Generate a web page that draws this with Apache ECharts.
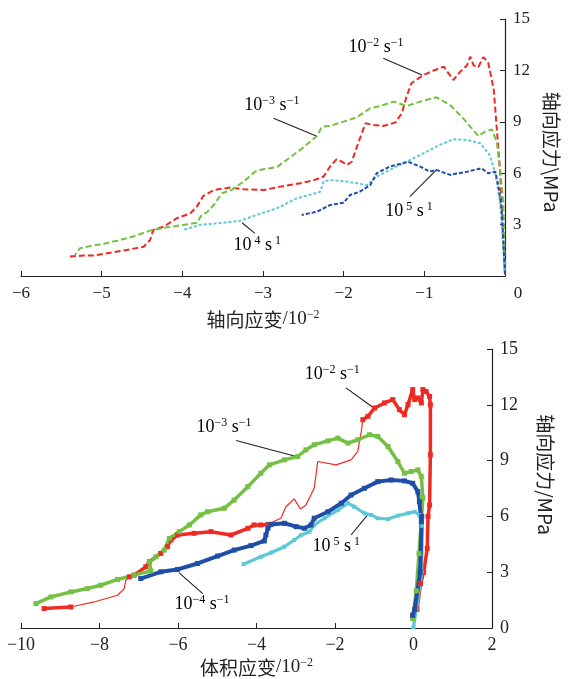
<!DOCTYPE html>
<html><head><meta charset="utf-8">
<script src="https://cdn.jsdelivr.net/npm/echarts@6/dist/echarts.min.js"></script>
<style>html,body{margin:0;padding:0;background:#fff}#c{width:572px;height:679px}</style>
</head><body><div id="c"></div>
<script>
// ---- top panel: axial stress vs axial strain (x in 10^-2, y in MPa)
const topXTicks = [-6, -5, -4, -3, -2, -1, 0];
const topYTicks = [3, 6, 9, 12, 15];
const topRed = [[0,0.1],[-0.03,3],[-0.06,6.0],[-0.10,8.5],[-0.14,10.9],[-0.21,12.5],[-0.27,12.77],[-0.33,12.2],[-0.39,12.3],[-0.43,12.8],[-0.47,12.3],[-0.56,11.9],[-0.64,11.44],[-0.76,12.22],[-0.89,11.98],[-1.01,11.73],[-1.16,11.25],[-1.22,10.47],[-1.28,9.5],[-1.36,8.95],[-1.51,8.76],[-1.63,8.81],[-1.73,8.91],[-1.82,7.75],[-1.90,6.67],[-1.96,6.48],[-2.02,6.67],[-2.09,6.81],[-2.17,6.38],[-2.25,5.80],[-2.38,5.57],[-2.54,5.41],[-2.77,5.23],[-2.99,5.02],[-3.24,5.06],[-3.41,5.16],[-3.61,5.02],[-3.74,4.67],[-3.82,4.05],[-3.90,3.66],[-4.07,3.37],[-4.23,2.88],[-4.36,2.69],[-4.40,2.10],[-4.48,1.71],[-4.69,1.52],[-4.89,1.36],[-5.10,1.19],[-5.23,1.19],[-5.43,1.13]];
const topGreen = [[0,0.1],[-0.02,4.24],[-0.06,6.19],[-0.10,7.75],[-0.16,8.56],[-0.25,8.42],[-0.33,8.17],[-0.52,9.21],[-0.68,9.98],[-0.85,10.43],[-1.05,10.18],[-1.22,9.92],[-1.38,10.18],[-1.55,9.92],[-1.67,9.79],[-1.84,9.26],[-2.0,9.01],[-2.17,8.76],[-2.27,8.72],[-2.33,8.17],[-2.54,7.36],[-2.70,6.80],[-2.83,6.35],[-3.0,6.23],[-3.10,6.09],[-3.24,5.51],[-3.39,5.02],[-3.51,4.83],[-3.61,4.14],[-3.70,3.70],[-3.76,3.56],[-3.82,3.11],[-3.99,2.98],[-4.19,2.84],[-4.40,2.65],[-4.61,2.30],[-4.81,2.06],[-4.98,1.87],[-5.14,1.75],[-5.27,1.62],[-5.33,1.23]];
const topCyan = [[0,0.1],[-0.06,4.24],[-0.12,6.0],[-0.19,7.06],[-0.31,7.75],[-0.47,7.94],[-0.64,7.98],[-0.81,7.65],[-1.01,7.16],[-1.22,6.67],[-1.43,6.19],[-1.59,5.80],[-1.71,5.31],[-1.96,5.51],[-2.17,5.60],[-2.25,5.51],[-2.27,5.21],[-2.29,4.92],[-2.38,4.79],[-2.58,4.54],[-2.72,4.20],[-2.83,3.95],[-3.08,3.56],[-3.28,3.23],[-3.49,3.11],[-3.78,2.98],[-3.99,2.69]];
const topBlue = [[0,0.1],[-0.04,3.85],[-0.08,5.21],[-0.12,6.09],[-0.21,6.0],[-0.29,6.29],[-0.47,6.09],[-0.68,5.90],[-0.85,6.19],[-0.93,6.09],[-1.05,6.38],[-1.20,6.67],[-1.43,6.38],[-1.59,6.0],[-1.67,5.31],[-1.80,4.92],[-1.92,4.73],[-2.0,4.28],[-2.17,4.14],[-2.33,3.75],[-2.52,3.56]];
// ---- bottom panel: axial stress vs volumetric strain
const botXTicks = [-10, -8, -6, -4, -2, 0, 2];
const botYTicks = [0, 3, 6, 9, 12, 15];
const botRed = [[-0.02,0.68],[0.09,1.0],[0.18,2.39],[0.26,3.0],[0.35,4.28],[0.37,6.0],[0.41,6.61],[0.43,9.31],[0.43,12.0],[0.41,12.45],[0.32,12.72],[0.24,12.82],[0.20,12.10],[0.11,12.37],[0.03,12.28],[-0.02,12.82],[-0.14,12.01],[-0.23,11.47],[-0.36,11.74],[-0.53,12.28],[-0.74,12.10],[-0.99,11.83],[-1.16,11.38],[-1.29,11.20],[-1.33,10.57],[-1.42,9.49],[-1.59,9.04],[-1.97,8.77],[-2.44,8.95],[-2.53,7.51],[-2.74,6.61],[-2.88,6.40],[-3.04,6.94],[-3.25,6.52],[-3.38,5.90],[-3.71,5.57],[-3.89,5.54],[-4.06,5.54],[-4.22,5.36],[-4.65,5.0],[-5.16,5.18],[-5.59,5.09],[-6.01,5.0],[-6.18,4.73],[-6.27,4.37],[-6.44,4.01],[-6.73,3.56],[-6.82,3.29],[-7.12,2.84],[-7.24,2.75],[-7.33,2.57],[-7.37,2.12],[-7.54,1.76],[-8.14,1.40],[-8.73,1.13],[-9.41,1.05]];
const botRedThinRanges = [[23, 35], [49, 54]];
const botGreen = [[-0.02,0.5],[0.07,2.0],[0.14,4.0],[0.24,7.0],[0.22,6.97],[0.20,8.14],[0.11,8.50],[-0.06,8.41],[-0.23,8.32],[-0.40,8.95],[-0.65,9.76],[-0.91,10.30],[-1.12,10.39],[-1.42,10.12],[-1.67,9.94],[-1.93,10.21],[-2.18,10.06],[-2.53,9.85],[-2.74,9.58],[-2.95,9.22],[-3.29,9.04],[-3.67,8.77],[-3.89,8.32],[-4.22,7.60],[-4.57,6.88],[-4.82,6.44],[-5.25,6.25],[-5.42,6.08],[-5.71,5.54],[-5.97,5.18],[-6.22,4.82],[-6.35,4.19],[-6.56,3.83],[-6.73,3.56],[-6.69,3.07],[-7.12,2.84],[-7.54,2.61],[-7.97,2.30],[-8.31,2.12],[-8.73,1.94],[-9.24,1.67],[-9.62,1.31]];
const botBlue = [[-0.02,0.68],[0.03,1.0],[0.17,3.0],[0.21,6.0],[0.20,5.71],[0.15,6.79],[0.11,7.33],[-0.02,7.78],[-0.23,7.91],[-0.57,7.96],[-0.91,7.87],[-1.25,7.51],[-1.59,7.15],[-1.84,6.71],[-2.18,6.25],[-2.53,5.90],[-2.61,5.54],[-2.78,5.36],[-2.99,5.45],[-3.29,5.63],[-3.63,5.57],[-3.71,5.36],[-3.76,5.0],[-3.80,4.68],[-4.14,4.43],[-4.57,4.19],[-4.99,3.87],[-5.50,3.47],[-6.01,3.15],[-6.44,3.02],[-6.95,2.66]];
const botCyan = [[0.0,0.05],[0.07,1.0],[0.21,3.0],[0.22,5.5],[0.15,6.08],[0.03,6.25],[-0.14,6.17],[-0.40,6.04],[-0.65,5.86],[-0.91,5.90],[-1.08,6.08],[-1.25,6.17],[-1.51,6.52],[-1.67,6.71],[-1.93,6.34],[-2.27,5.90],[-2.53,5.54],[-2.65,5.18],[-2.86,5.0],[-3.04,4.73],[-3.29,4.37],[-3.63,4.05],[-3.89,3.83],[-4.33,3.43]];
// ---- strain-rate annotations: [exponent, exponent, label centre, leader start, leader end]
const topNotes = [
  ['−2','−1',[-1.60,13.37],[-1.51,12.71],[-1.03,11.73]],
  ['−3','−1',[-2.89,9.98],[-2.87,9.21],[-2.34,8.17]],
  [' 4',' 1',[-3.07,1.81],[-3.26,3.11],[-3.10,2.49]],
  [' 5',' 1',[-1.19,3.79],[-1.18,4.63],[-0.85,6.19]]
];
const botNotes = [
  ['−2','−1',[-2.07,13.62],[-1.72,12.91],[-1.01,11.83]],
  ['−3','−1',[-4.83,10.77],[-4.52,10.08],[-2.99,9.22]],
  ['−4','−1',[-5.39,1.28],[-5.97,2.96],[-5.37,1.85]],
  [' 5',' 1',[-1.97,4.40],[-1.59,5.0],[-1.16,6.11]]
];

const RED='#ee2a24', GREEN='#74c043', CYAN='#5ec9d6', BLUE='#1f4ea8';
const SERIF='"Liberation Serif","DejaVu Serif",serif';
const CJK='"Noto Sans CJK SC","Liberation Serif",serif';
const INK='#222';
const minus = v => String(v).replace('-', '−');

function xAxis(gi, ticks, fs, shiftZero, margin){
  return {
    type:'value', gridIndex:gi, min:ticks[0], max:ticks[ticks.length-1], interval:ticks[1]-ticks[0],
    axisLine:{onZero:false, lineStyle:{color:INK, width:1.2}},
    axisTick:{inside:true, length:5, lineStyle:{color:INK}},
    splitLine:{show:false},
    axisLabel:{color:INK, fontFamily:SERIF, fontSize:fs, margin:margin,
      formatter: v => (shiftZero && v===0) ? '{z|0}' : minus(v),
      rich:{z:{fontFamily:SERIF, fontSize:fs, color:INK, padding:[0,0,0,26]}}},
    nameLocation:'middle'
  };
}
function yAxis(gi, ticks, fs, hideZero, name, gap, pad){
  return {
    type:'value', gridIndex:gi, position:'right', min:0, max:15, interval:3,
    axisLine:{onZero:false, lineStyle:{color:INK, width:1.2}},
    axisTick:{inside:true, length:5, lineStyle:{color:INK}},
    splitLine:{show:false},
    axisLabel:{color:INK, fontFamily:SERIF, fontSize:fs, margin:8,
      formatter: v => (hideZero && v===0) ? '' : (ticks.includes(v) ? String(v) : '')},
    name:name, nameLocation:'middle', nameRotate:-90, nameGap:gap,
    nameTextStyle:{color:INK, fontFamily:CJK, fontSize:19, padding:pad},
  };
}
const xNameRich = {c:{fontFamily:CJK, fontSize:19, color:INK}, n:{fontFamily:SERIF, fontSize:19, color:INK}, s:{fontFamily:SERIF, fontSize:12, color:INK, padding:[0,0,9,0]}};

const xa0 = xAxis(0, topXTicks, 17, true, 9);
xa0.name = '{c|轴向应变}{n|/10}{s|−2}'; xa0.nameTextStyle = {rich:xNameRich}; xa0.nameGap = 33;
const xa1 = xAxis(1, botXTicks, 18, false, 8);
xa1.name = '{c|体积应变}{n|/10}{s|−2}'; xa1.nameTextStyle = {rich:xNameRich}; xa1.nameGap = 29;
const ya0 = yAxis(0, topYTicks, 17, true, '轴向应力\\MPa', 37, [0,0,0,9]);
const ya1 = yAxis(1, botYTicks, 18, false, '轴向应力/MPa', 44, [0,28,0,0]);

function dashed(data, color, type, w){
  return {type:'line', xAxisIndex:0, yAxisIndex:0, data:data, showSymbol:false, symbol:'none', silent:true,
    lineStyle:{color:color, width:w, type:type}, animation:false};
}
function solid(data, color, w, sym){
  return {type:'line', xAxisIndex:1, yAxisIndex:1, data:data, symbol:'rect', symbolSize:sym, showSymbol:sym>0, silent:true,
    itemStyle:{color:color}, lineStyle:{color:color, width:w}, animation:false};
}
const series = [
  dashed(topRed, RED, [6,3], 2),
  dashed(topGreen, GREEN, [6,3], 2),
  dashed(topCyan, CYAN, [3,2], 2),
  dashed(topBlue, BLUE, [4,2], 2),
];
// bottom red: thick with markers, thin segments in between
let cuts = [0];
botRedThinRanges.forEach(r => { cuts.push(r[0]); cuts.push(r[1]); });
cuts.push(botRed.length-1);
for (let i=0;i<cuts.length-1;i++){
  const seg = botRed.slice(cuts[i], cuts[i+1]+1);
  const thin = (i%2===1);
  series.push(solid(seg, RED, thin?1.2:3.5, thin?0:5));
}
series.push(solid(botGreen, GREEN, 3.5, 5));
series.push(solid(botCyan, CYAN, 3.2, 4));
series.push(solid(botBlue, BLUE, 4, 5));

const chart = echarts.init(document.getElementById('c'), null, {renderer:'canvas'});
chart.setOption({
  animation:false,
  backgroundColor:'#fff',
  grid:[{left:21, top:19, width:484, height:257}, {left:21, top:349, width:471, height:279}],
  xAxis:[xa0, xa1], yAxis:[ya0, ya1], series:series
});

const noteRich = {b:{fontFamily:SERIF, fontSize:18, color:INK}, s:{fontFamily:SERIF, fontSize:12, color:INK, padding:[0,0,9,0]}};
const graphics = [];
function addNotes(notes, gi){
  notes.forEach(n => {
    const c = chart.convertToPixel({gridIndex:gi}, n[2]);
    const a = chart.convertToPixel({gridIndex:gi}, n[3]);
    const b = chart.convertToPixel({gridIndex:gi}, n[4]);
    graphics.push({type:'line', shape:{x1:a[0], y1:a[1], x2:b[0], y2:b[1]}, style:{stroke:INK, lineWidth:1.1}, silent:true});
    graphics.push({type:'text', x:c[0], y:c[1], silent:true, style:{
      text:'{b|10}{s|'+n[0]+'}{b| s}{s|'+n[1]+'}', rich:noteRich, align:'center', verticalAlign:'middle'}});
  });
}
addNotes(topNotes, 0);
addNotes(botNotes, 1);
chart.setOption({graphic:graphics});
</script></body></html>
